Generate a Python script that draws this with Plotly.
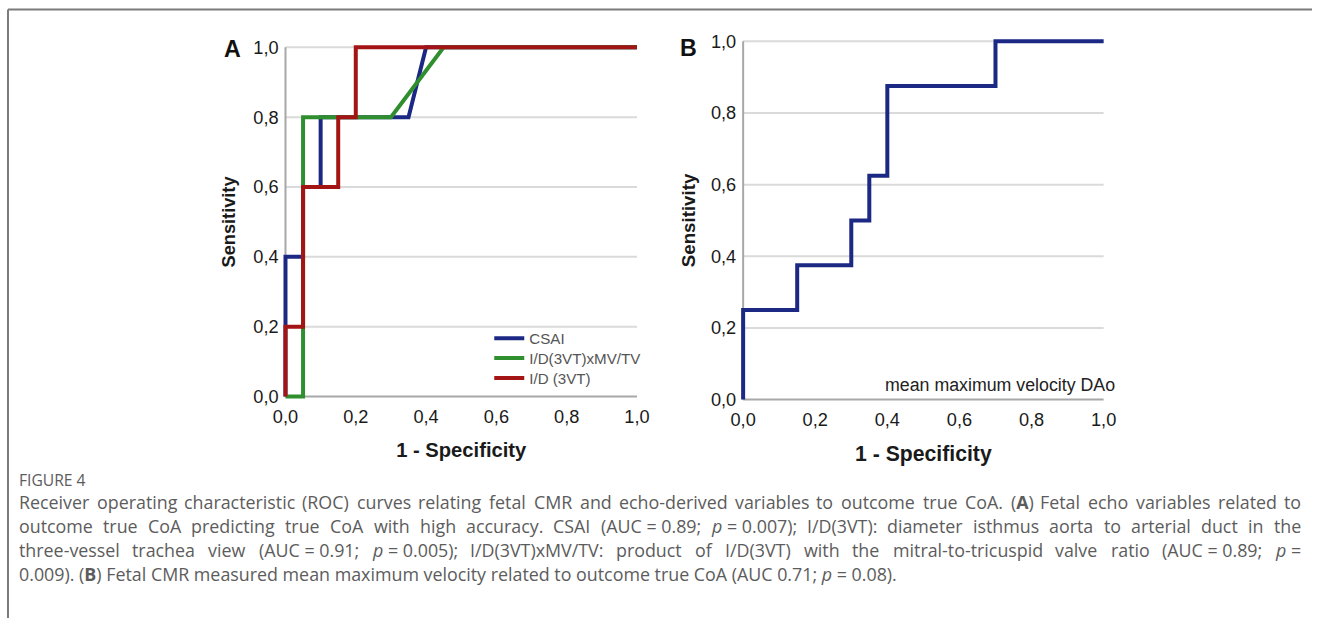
import os
import struct
import re
import plotly.graph_objects as go

W, H = 1319, 622

# ---------------- data ----------------
csai_fpr = [0.0, 0.0, 0.0, 0.05, 0.05, 0.10, 0.10, 0.35, 0.40, 1.0]
csai_tpr = [0.0, 0.2, 0.4, 0.40, 0.60, 0.60, 0.80, 0.80, 1.00, 1.0]

idmv_fpr = [0.0, 0.05, 0.05, 0.30, 0.45, 1.0]
idmv_tpr = [0.0, 0.00, 0.80, 0.80, 1.00, 1.0]

id3vt_fpr = [0.0, 0.0, 0.05, 0.05, 0.15, 0.15, 0.20, 0.20, 1.0]
id3vt_tpr = [0.0, 0.2, 0.20, 0.60, 0.60, 0.80, 0.80, 1.00, 1.0]

dao_fpr = [0.0, 0.0, 0.15, 0.15, 0.30, 0.30, 0.35, 0.35, 0.40, 0.40, 0.70, 0.70, 1.0]
dao_tpr = [0.0, 0.25, 0.25, 0.375, 0.375, 0.50, 0.50, 0.625, 0.625, 0.875, 0.875, 1.0, 1.0]

tick_vals = [0.0, 0.2, 0.4, 0.6, 0.8, 1.0]
series_names = ["CSAI", "I/D(3VT)xMV/TV", "I/D (3VT)"]
series_colors = ["#1b2884", "#2f8f2f", "#a31515"]
dao_label = "mean maximum velocity DAo"

caption_title = "FIGURE 4"
caption_lines = [
    "Receiver operating characteristic (ROC) curves relating fetal CMR and echo-derived variables to outcome true CoA. (<b>A</b>) Fetal echo variables related to",
    "outcome true CoA predicting true CoA with high accuracy. CSAI (AUC = 0.89; <i>p</i> = 0.007); I/D(3VT): diameter isthmus aorta to arterial duct in the",
    "three-vessel trachea view (AUC = 0.91; <i>p</i> = 0.005); I/D(3VT)xMV/TV: product of I/D(3VT) with the mitral-to-tricuspid valve ratio (AUC = 0.89; <i>p</i> =",
    "0.009). (<b>B</b>) Fetal CMR measured mean maximum velocity related to outcome true CoA (AUC 0.71; <i>p</i> = 0.08).",
]


# ---------------- font metrics (for justified caption) ----------------
def find_font(names):
    hits = []
    for root_dir in ["/usr/share/fonts", "/usr/local/share/fonts",
                     os.path.expanduser("~/.fonts"), os.path.expanduser("~/.local/share/fonts")]:
        if not os.path.isdir(root_dir):
            continue
        for r, _, files in os.walk(root_dir):
            for f in files:
                if f.lower().endswith((".ttf", ".otf")):
                    hits.append(os.path.join(r, f))
    for n in names:
        for p in hits:
            if os.path.basename(p).lower().startswith(n.lower()):
                return p
    return None


def load_widths(path):
    data = open(path, "rb").read()
    ntab = struct.unpack(">H", data[4:6])[0]
    tabs = {}
    for i in range(ntab):
        o = 12 + 16 * i
        tag = data[o:o + 4].decode("latin1")
        _, toff, tlen = struct.unpack(">III", data[o + 4:o + 16])
        tabs[tag] = toff
    upem = struct.unpack(">H", data[tabs["head"] + 18:tabs["head"] + 20])[0]
    nhm = struct.unpack(">H", data[tabs["hhea"] + 34:tabs["hhea"] + 36])[0]
    hm = tabs["hmtx"]
    adv = [struct.unpack(">H", data[hm + 4 * i:hm + 4 * i + 2])[0] for i in range(nhm)]
    cm = tabs["cmap"]
    nsub = struct.unpack(">H", data[cm + 2:cm + 4])[0]
    mapping = {}
    for i in range(nsub):
        pid, eid, soff = struct.unpack(">HHI", data[cm + 4 + 8 * i:cm + 12 + 8 * i])
        st = cm + soff
        fmt = struct.unpack(">H", data[st:st + 2])[0]
        if fmt == 4:
            segx2 = struct.unpack(">H", data[st + 6:st + 8])[0]
            seg = segx2 // 2
            ends = struct.unpack(">%dH" % seg, data[st + 14:st + 14 + segx2])
            starts = struct.unpack(">%dH" % seg, data[st + 16 + segx2:st + 16 + 2 * segx2])
            deltas = struct.unpack(">%dh" % seg, data[st + 16 + 2 * segx2:st + 16 + 3 * segx2])
            rpos = st + 16 + 3 * segx2
            roffs = struct.unpack(">%dH" % seg, data[rpos:rpos + segx2])
            for s in range(seg):
                for c in range(starts[s], min(ends[s], 0x2FF) + 1):
                    if roffs[s] == 0:
                        g = (c + deltas[s]) & 0xFFFF
                    else:
                        a = rpos + 2 * s + roffs[s] + 2 * (c - starts[s])
                        g = struct.unpack(">H", data[a:a + 2])[0]
                        if g:
                            g = (g + deltas[s]) & 0xFFFF
                    mapping[c] = g
            if mapping:
                break
    if not mapping:
        return None
    return lambda ch: adv[min(mapping.get(ord(ch), 0), nhm - 1)] / upem


CAP_FAMILY = "Open Sans, Noto Sans, sans-serif"
width_fn = None
try:
    fp = find_font(["OpenSans-Regular", "OpenSans[", "OpenSans-", "NotoSans-Regular"])
    if fp:
        width_fn = load_widths(fp)
except Exception:
    width_fn = None


def strip(t):
    return re.sub(r"<[^>]+>", "", t)


def text_em(t):
    return sum(width_fn(c) for c in strip(t))


def group_words(line):
    toks = line.split(" ")
    groups = []
    join_next = False
    for t in toks:
        if groups and (t == "=" or join_next):
            groups[-1] += " " + t
            join_next = (t == "=")
        else:
            groups.append(t)
            join_next = False
    return groups


# ---------------- geometry: target (photo) pixels -> layout pixels ----------------
SX, OX = 0.988, 8.0          # horizontal: photo = SX * (layout + OX)
SY, CY = 0.992, 311.0        # vertical:   photo = CY + SY * (layout - CY)
FS = 1.0 / 0.99              # font scale


def sx(X):
    return X / SX - OX


def sy(Y):
    return CY + (Y - CY) / SY


def f(s):
    return s * FS


PAD = 6


def xdom(p0, p1):
    return [(sx(p0) - PAD) / W, (sx(p1) + PAD) / W]


def ydom(top, bottom):
    return [1 - (sy(bottom) + PAD) / H, 1 - (sy(top) - PAD) / H]


def rng_x(p0, p1):
    pd = PAD / (sx(p1) - sx(p0))
    return [-pd, 1 + pd]


def rng_y(top, bottom):
    pd = PAD / (sy(bottom) - sy(top))
    return [-pd, 1 + pd]


def px(X):
    return sx(X) / W


def py(Y):
    return 1 - sy(Y) / H


A_x = (286, 637); A_y = (46, 397)
B_x = (743, 1103); B_y = (40, 400)

fig = go.Figure()

legends = ["legend", "legend2", "legend3"]
for fx, ty, name, col, lg in zip([csai_fpr, idmv_fpr, id3vt_fpr],
                                 [csai_tpr, idmv_tpr, id3vt_tpr],
                                 series_names, series_colors, legends):
    fig.add_trace(go.Scatter(x=fx, y=ty, mode="lines", name=name,
                             line=dict(color=col, width=4), xaxis="x", yaxis="y",
                             showlegend=True, legend=lg))

fig.add_trace(go.Scatter(x=dao_fpr, y=dao_tpr, mode="lines", name=dao_label,
                         line=dict(color=series_colors[0], width=4),
                         xaxis="x2", yaxis="y2", showlegend=False))

AX_FAMILY = "Liberation Sans, Arial, sans-serif"
tickfont = dict(family=AX_FAMILY, size=f(18), color="#1a1a1a")


def xaxis_cfg(pxs, title, standoff, tsize):
    return dict(domain=xdom(*pxs), range=rng_x(*pxs), tickvals=tick_vals, tickformat=".1f",
                showgrid=False, zeroline=False, showline=False, ticks="",
                tickfont=tickfont, ticklabelstandoff=1,
                title=dict(text="<b>" + title + "</b>",
                           font=dict(family=AX_FAMILY, size=f(tsize), color="#1a1a1a"),
                           standoff=standoff),
                fixedrange=True)


def yaxis_cfg(pys, title, standoff, tsize):
    return dict(domain=ydom(*pys), range=rng_y(*pys), tickvals=tick_vals, tickformat=".1f",
                showgrid=False, zeroline=False, showline=False, ticks="",
                tickfont=tickfont, ticklabelstandoff=0,
                title=dict(text="<b>" + title + "</b>",
                           font=dict(family=AX_FAMILY, size=f(tsize), color="#1a1a1a"),
                           standoff=standoff),
                fixedrange=True)


leg_font = dict(family="Liberation Sans, Arial, sans-serif", size=f(15), color="#555555")
leg_common = dict(xanchor="left", yanchor="middle", bgcolor="rgba(0,0,0,0)",
                  borderwidth=0, font=leg_font, itemwidth=30)
LEG_X = (sx(529) - 40) / W

fig.update_layout(
    width=W, height=H,
    margin=dict(l=0, r=0, t=0, b=0),
    paper_bgcolor="white", plot_bgcolor="rgba(0,0,0,0)",
    separators=",.",
    xaxis=dict(xaxis_cfg(A_x, "1 - Specificity", 17, 20), anchor="y"),
    yaxis=dict(yaxis_cfg(A_y, "Sensitivity", 12, 18), anchor="x"),
    xaxis2=dict(xaxis_cfg(B_x, "1 - Specificity", 17, 21), anchor="y2"),
    yaxis2=dict(yaxis_cfg(B_y, "Sensitivity", 10, 18.5), anchor="x2"),
    legend=dict(leg_common, x=LEG_X, y=py(338.5)),
    legend2=dict(leg_common, x=LEG_X, y=py(358.5)),
    legend3=dict(leg_common, x=LEG_X, y=py(378.5)),
    showlegend=True,
)

shapes = []
for xa, ya in [("x", "y"), ("x2", "y2")]:
    for v in tick_vals[1:]:
        shapes.append(dict(type="line", xref=xa, yref=ya, x0=0, x1=1, y0=v, y1=v,
                           line=dict(color="#dadada", width=2), layer="below"))
    shapes.append(dict(type="line", xref=xa, yref=ya, x0=0, x1=0, y0=0, y1=1,
                       line=dict(color="#a8a8a8", width=2), layer="below"))
    shapes.append(dict(type="line", xref=xa, yref=ya, x0=0, x1=1, y0=0, y1=0,
                       line=dict(color="#a8a8a8", width=2), layer="below"))
FRAME_X = max(1.0, sx(7))
FRAME_Y = max(1.0, sy(8))
shapes.append(dict(type="line", xref="paper", yref="paper", x0=FRAME_X / W, x1=1.0,
                   y0=1 - FRAME_Y / H, y1=1 - FRAME_Y / H, line=dict(color="#7b7b7b", width=2)))
shapes.append(dict(type="line", xref="paper", yref="paper", x0=FRAME_X / W, x1=FRAME_X / W,
                   y0=0, y1=1 - FRAME_Y / H, line=dict(color="#7b7b7b", width=2)))
fig.update_layout(shapes=shapes)

ann = []
ann.append(dict(text="<b>A</b>", x=px(233), y=py(48), xref="paper", yref="paper",
                showarrow=False, xanchor="center", yanchor="middle",
                font=dict(family=AX_FAMILY, size=f(23), color="#111111")))
ann.append(dict(text="<b>B</b>", x=px(688), y=py(47), xref="paper", yref="paper",
                showarrow=False, xanchor="center", yanchor="middle",
                font=dict(family=AX_FAMILY, size=f(23), color="#111111")))
ann.append(dict(text=dao_label, x=px(1115), y=py(385), xref="paper", yref="paper",
                showarrow=False, xanchor="right", yanchor="middle", borderpad=0,
                font=dict(family=AX_FAMILY, size=f(17.6), color="#222222")))

# ---------------- caption ----------------
CAP_LEFT, CAP_RIGHT = sx(19), sx(1299)
CAP_COLOR = "#5c5c5c"
cap_size = f(17.0)
if width_fn is not None:
    cap_size = max(15.0, min(19.5, (869.0 / SX) / text_em(caption_lines[-1])))
capfont = dict(family=CAP_FAMILY, size=cap_size, color=CAP_COLOR)

ann.append(dict(text=caption_title, x=CAP_LEFT / W, y=py(481), xref="paper", yref="paper",
                showarrow=False, xanchor="left", yanchor="middle", borderpad=0,
                font=dict(capfont, size=f(15.5))))

for i, line in enumerate(caption_lines):
    ypos = py(503 + 24 * i)
    justify = (i < len(caption_lines) - 1) and (width_fn is not None)
    if not justify:
        ann.append(dict(text=line, x=CAP_LEFT / W, y=ypos, xref="paper", yref="paper",
                        showarrow=False, xanchor="left", yanchor="middle", borderpad=0,
                        font=capfont))
        continue
    words = group_words(line)
    wpx = [text_em(w) * cap_size for w in words]
    gap = (CAP_RIGHT - CAP_LEFT - sum(wpx)) / (len(words) - 1)
    xcur = CAP_LEFT
    for w, wp in zip(words, wpx):
        ann.append(dict(text=w, x=xcur / W, y=ypos, xref="paper", yref="paper",
                        showarrow=False, xanchor="left", yanchor="middle", borderpad=0,
                        font=capfont))
        xcur += wp + gap

fig.update_layout(annotations=ann)

fig.write_html("out.html")
